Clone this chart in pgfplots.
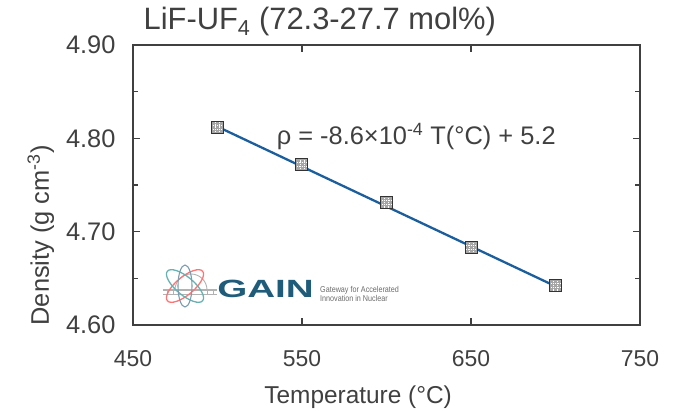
\documentclass[border=0pt]{standalone}
\usepackage{fontspec}
\setmainfont{Liberation Sans}
\usepackage{pgfplots}
\pgfplotsset{compat=1.18}
\definecolor{axgray}{HTML}{404040}
\definecolor{fitblue}{HTML}{1B5E9E}
\definecolor{gainblue}{HTML}{1F5C7A}

% square marker with a light inner grid
\pgfdeclareplotmark{gridsq}{%
  \pgfpathrectangle{\pgfpoint{-\pgfplotmarksize}{-\pgfplotmarksize}}{\pgfpoint{2\pgfplotmarksize}{2\pgfplotmarksize}}%
  \pgfusepathqfillstroke
  \begin{pgfscope}
    \pgfsetstrokecolor{white}
    \pgfsetlinewidth{0.7bp}
    \pgfsetdash{{1.2bp}{1bp}}{0bp}
    \pgfpathmoveto{\pgfpoint{-0.33\pgfplotmarksize}{-0.8\pgfplotmarksize}}\pgfpathlineto{\pgfpoint{-0.33\pgfplotmarksize}{0.8\pgfplotmarksize}}
    \pgfpathmoveto{\pgfpoint{0.33\pgfplotmarksize}{-0.8\pgfplotmarksize}}\pgfpathlineto{\pgfpoint{0.33\pgfplotmarksize}{0.8\pgfplotmarksize}}
    \pgfpathmoveto{\pgfpoint{-0.8\pgfplotmarksize}{-0.33\pgfplotmarksize}}\pgfpathlineto{\pgfpoint{0.8\pgfplotmarksize}{-0.33\pgfplotmarksize}}
    \pgfpathmoveto{\pgfpoint{-0.8\pgfplotmarksize}{0.33\pgfplotmarksize}}\pgfpathlineto{\pgfpoint{0.8\pgfplotmarksize}{0.33\pgfplotmarksize}}
    \pgfusepathqstroke
  \end{pgfscope}
}

\pgfplotstableread{
T rho
500 4.812
550 4.772
600 4.731
650 4.683
700 4.642
}\density

\begin{document}
\begin{tikzpicture}
\begin{axis}[
    scale only axis,
    width=507bp, height=280bp,
    xmin=450, xmax=750, ymin=4.60, ymax=4.90,
    xtick={450,550,650,750},
    ytick={4.60,4.70,4.80,4.90},
    minor ytick={4.65,4.75,4.85},
    tick align=inside,
    major tick length=7bp, minor tick length=5bp,
    tick style={axgray, line width=1.4bp},
    axis line style={axgray, line width=2.2bp},
    /pgf/number format/assume math mode=true,
    ticklabel style={text=axgray},
    yticklabel style={/pgf/number format/fixed, /pgf/number format/fixed zerofill, /pgf/number format/precision=2, font=\fontsize{25.5}{29}\selectfont, xshift=-14bp},
    xticklabel style={/pgf/number format/fixed, font=\fontsize{23}{27}\selectfont, yshift=-22bp},
    xlabel={Temperature (°C)},
    ylabel={Density (g cm\textsuperscript{-3})},
    xlabel style={font=\fontsize{24.5}{28}\selectfont, text=axgray, at={(rel axis cs:0.444,0)}, anchor=base, yshift=-78bp},
    ylabel style={font=\fontsize{25.5}{29}\selectfont, text=axgray, at={(ticklabel cs:0.32)}, yshift=5bp},
    title={LiF-UF\textsubscript{4} (72.3-27.7 mol\%)},
    title style={font=\fontsize{31}{35}\selectfont, text=axgray, at={(rel axis cs:0.014,1)}, anchor=base west, yshift=10bp},
    clip=false,
]
\addplot[fitblue, line width=2.3bp] coordinates {(500,4.8125) (700,4.6415)};
\addplot[only marks, mark=gridsq, mark size=6bp, mark options={fill=gray!70, draw=gray!40!black, line width=1bp}] table[x=T, y=rho] {\density};
\node[anchor=west, text=axgray, font=\fontsize{25.5}{29}\selectfont] at (axis cs:533,4.8015) {ρ = -8.6×10\textsuperscript{-4} T(°C) + 5.2};
\coordinate (o) at (rel axis cs:0,0);
\end{axis}
% GAIN logo (approximate)
\begin{scope}[shift={(o)}, x=1bp, y=1bp]
  \draw[gray!60, line width=1.4bp] (30,35) -- (84,35);
  \draw[gray!60, line width=1bp] (30,30) -- (84,30);
  \draw[gray!60, line width=0.9bp] (42,35) arc[start angle=180, end angle=0, radius=16];
  \foreach \xx in {34,40,74,80} \draw[gray!60, line width=0.8bp] (\xx,30) -- (\xx,35);
  \draw[red!55!white, line width=1.3bp, rotate around={40:(52,39)}] (52,39) ellipse[x radius=23, y radius=9];
  \draw[teal!60, line width=1.3bp, rotate around={-40:(52,39)}] (52,39) ellipse[x radius=23, y radius=9];
  \draw[gainblue!60, line width=1.1bp, rotate around={90:(52,39)}] (52,39) ellipse[x radius=21, y radius=7];
  \node[anchor=west, inner sep=0, text=gainblue, xscale=1.55, font=\fontsize{25}{25}\selectfont\bfseries] at (84,36.5) {GAIN};
  \node[anchor=west, inner sep=0, text=gray!85!black, xscale=0.85, font=\fontsize{8.5}{8.5}\selectfont, align=left] at (187,31) {Gateway for Accelerated\\Innovation in Nuclear};
\end{scope}
\pgfresetboundingbox
\path (o) ++(-133bp,-86bp) rectangle ++(685bp,411bp);
\end{tikzpicture}
\end{document}
